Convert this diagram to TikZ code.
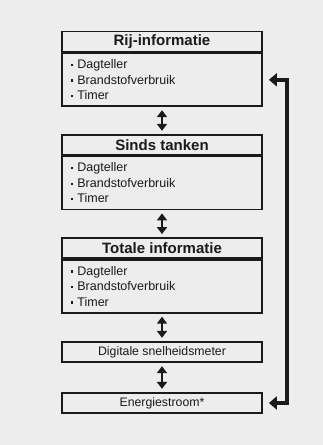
\documentclass[tikz,border=0pt]{standalone}
\usepackage{fontspec}
\setmainfont{Liberation Sans}
\usetikzlibrary{arrows.meta}
\definecolor{bg}{HTML}{EDEDED}
\definecolor{ink}{HTML}{1A1A1A}
\newcommand{\bul}{\raisebox{2.6pt}{\rule{2.2pt}{2.2pt}}\hspace{4.2pt}}
\begin{document}
\begin{tikzpicture}[x=1pt,y=-1pt,
 frame/.style={draw=ink, line width=1.8pt, minimum width=200pt, inner sep=0pt, text=ink},
 head/.style={frame, minimum height=20pt, font=\bfseries\fontsize{15}{18}\selectfont},
 body/.style={frame, minimum height=53pt, text width=182pt, inner xsep=9pt, align=left, font=\fontsize{12.5}{15.5}\selectfont},
 single/.style={frame, minimum height=20.5pt, font=\fontsize{12.3}{15}\selectfont},
 updown/.style={draw=ink, line width=2.2pt, {Triangle[width=10pt,length=7pt]}-{Triangle[width=10pt,length=7pt]}, shorten <=3pt, shorten >=3pt},
 loopback/.style={draw=ink, line width=4pt, {Triangle[width=13pt,length=8pt]}-{Triangle[width=13pt,length=8pt]}, line join=miter}]
\fill[bg] (0,0) rectangle (323,445);
\useasboundingbox (0,0) rectangle (323,445);

\node[head] (h1) at (162,41.5) {Rij-informatie};
\node[body, anchor=north] (b1) at (h1.south) {\bul Dagteller\\ \bul Brandstofverbruik\\ \bul Timer};

\node[head] (h2) at (162,144.7) {Sinds tanken};
\node[body, anchor=north] (b2) at (h2.south) {\bul Dagteller\\ \bul Brandstofverbruik\\ \bul Timer};

\node[head] (h3) at (162,248) {Totale informatie};
\node[body, anchor=north] (b3) at (h3.south) {\bul Dagteller\\ \bul Brandstofverbruik\\ \bul Timer};

\node[single] (d4) at (162,352) {Digitale snelheidsmeter};
\node[single] (e5) at (162,403) {Energiestroom*};

\draw[updown] (b1.south) -- (h2.north);
\draw[updown] (b2.south) -- (h3.north);
\draw[updown] (b3.south) -- (d4.north);
\draw[updown] (d4.south) -- (e5.north);

\draw[loopback] ([xshift=6pt]e5.east) -- ++(18.5pt,0) |- ([xshift=6pt]b1.east);
\end{tikzpicture}
\end{document}
